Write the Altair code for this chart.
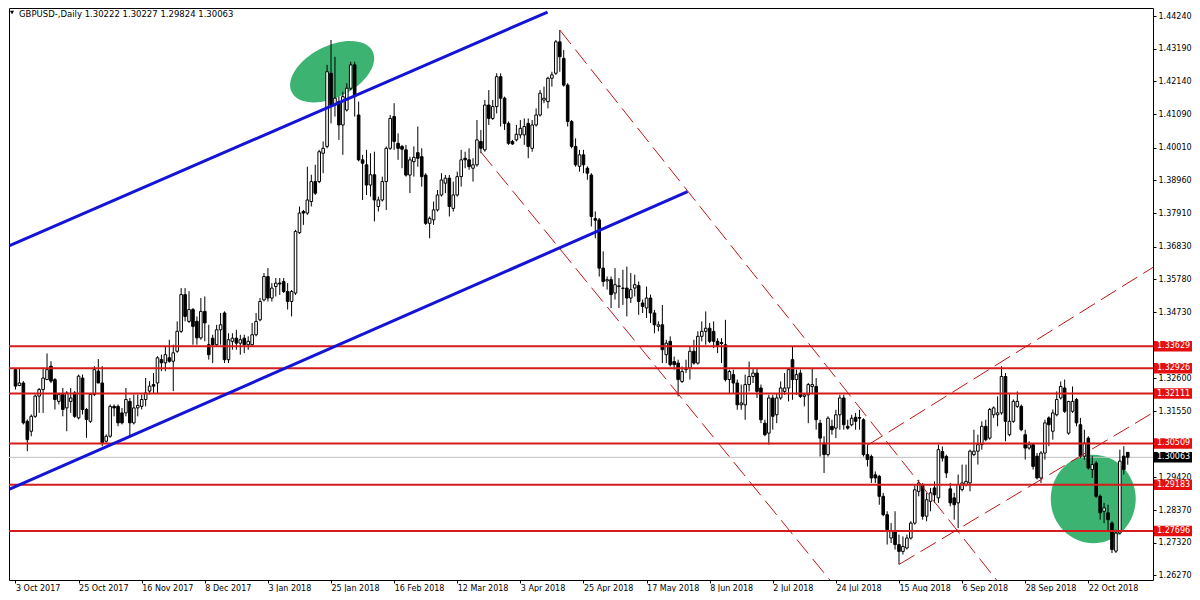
import altair as alt
import pandas as pd

# ---------------- data ----------------
OPEN = [1.3288,1.3237,1.3245,1.3122,1.3090,1.3138,1.3203,1.3224,1.3256,1.3299,
        1.3256,1.3186,1.3208,1.3165,1.3186,1.3213,1.3133,1.3261,1.3160,1.3122,
        1.3208,1.3283,1.3245,1.3058,1.3074,1.3170,1.3170,1.3149,1.3149,1.3186,
        1.3117,1.3165,1.3170,1.3192,1.3219,1.3240,1.3245,1.3320,1.3310,1.3326,
        1.3315,1.3347,1.3411,1.3529,1.3443,1.3481,1.3443,1.3390,1.3475,1.3368,
        1.3389,1.3368,1.3416,1.3470,1.3320,1.3379,1.3389,1.3373,1.3389,1.3368,
        1.3368,1.3400,1.3448,1.3512,1.3587,1.3518,1.3555,1.3566,1.3571,1.3539,
        1.3507,1.3534,1.3728,1.3796,1.3791,1.3828,1.3892,1.3892,1.3983,1.4005,
        1.4240,1.4138,1.4149,1.4074,1.4122,1.4192,1.4267,1.4106,1.3962,1.3946,
        1.3881,1.3914,1.3812,1.3833,1.3892,1.3999,1.4101,1.4015,1.4005,1.3994,
        1.3913,1.3956,1.3985,1.3972,1.3913,1.3758,1.3769,1.3801,1.3849,1.3887,
        1.3903,1.3806,1.3849,1.3908,1.3967,1.3962,1.3935,1.3946,1.4021,1.3994,
        1.4138,1.4095,1.4133,1.4229,1.4160,1.4079,1.4021,1.4026,1.4042,1.4042,
        1.4079,1.3999,1.4074,1.4106,1.4154,1.4149,1.4224,1.4240,1.4341,1.4288,
        1.4202,1.4085,1.4005,1.3941,1.3978,1.3935,1.3913,1.3773,1.3769,1.3614,
        1.3573,1.3577,1.3534,1.3555,1.3550,1.3550,1.3518,1.3550,1.3558,1.3502,
        1.3486,1.3518,1.3470,1.3427,1.3432,1.3336,1.3379,1.3314,1.3309,1.3250,
        1.3288,1.3293,1.3347,1.3309,1.3395,1.3411,1.3421,1.3411,1.3379,1.3375,
        1.3368,1.3256,1.3272,1.3245,1.3175,1.3175,1.3240,1.3266,1.3277,1.3229,
        1.3116,1.3084,1.3197,1.3143,1.3197,1.3218,1.3229,1.3320,1.3256,1.3277,
        1.3202,1.3207,1.3234,1.3234,1.3116,1.3052,1.3015,1.3106,1.3100,1.3143,
        1.3197,1.3106,1.3111,1.3135,1.3134,1.3127,1.3015,1.3009,1.2950,1.2945,
        1.2881,1.2822,1.2747,1.2769,1.2726,1.2704,1.2715,1.2747,1.2795,1.2897,
        1.2918,1.2817,1.2865,1.2908,1.2876,1.3025,1.3009,1.2905,1.2876,1.2860,
        1.2903,1.2919,1.2924,1.3015,1.3026,1.3047,1.3106,1.3068,1.3143,1.3143,
        1.3149,1.3266,1.3079,1.3122,1.3170,1.3170,1.3079,1.3036,1.3047,1.3010,
        1.2940,1.3020,1.3133,1.3090,1.3143,1.3197,1.3229,1.3084,1.3154,1.3192,
        1.3111,1.3010,1.3068,1.2967,1.2988,1.2881,1.2833,1.2828,1.2795,1.2705,
        1.2763,1.3010,1.30222]
HIGH = [1.3293,1.3293,1.3251,1.3128,1.3144,1.3208,1.3229,1.3293,1.3340,1.3315,
        1.3261,1.3213,1.3229,1.3219,1.3229,1.3219,1.3272,1.3272,1.3165,1.3213,
        1.3299,1.3322,1.3299,1.3080,1.3176,1.3176,1.3176,1.3165,1.3229,1.3197,
        1.3208,1.3208,1.3208,1.3261,1.3251,1.3277,1.3331,1.3336,1.3363,1.3384,
        1.3368,1.3443,1.3550,1.3550,1.3540,1.3486,1.3459,1.3518,1.3523,1.3432,
        1.3400,1.3432,1.3470,1.3475,1.3405,1.3405,1.3416,1.3400,1.3400,1.3395,
        1.3438,1.3470,1.3518,1.3598,1.3614,1.3566,1.3582,1.3582,1.3582,1.3566,
        1.3544,1.3737,1.3812,1.3801,1.3940,1.3914,1.3946,1.3994,1.4021,1.4267,
        1.4347,1.4293,1.4165,1.4181,1.4208,1.4277,1.4277,1.4149,1.3978,1.3994,
        1.3983,1.3988,1.3844,1.3908,1.4005,1.4106,1.4144,1.4047,1.4010,1.4010,
        1.3972,1.4005,1.4069,1.3999,1.3919,1.3780,1.3828,1.3865,1.3919,1.3913,
        1.3913,1.3892,1.3924,1.3994,1.3988,1.3999,1.3967,1.4090,1.4058,1.4154,
        1.4186,1.4154,1.4240,1.4240,1.4165,1.4085,1.4026,1.4074,1.4090,1.4095,
        1.4095,1.4090,1.4127,1.4186,1.4197,1.4229,1.4245,1.4347,1.4379,1.4315,
        1.4208,1.4090,1.4031,1.3994,1.3994,1.3941,1.3919,1.3796,1.3775,1.3668,
        1.3587,1.3587,1.3614,1.3582,1.3609,1.3619,1.3598,1.3593,1.3571,1.3513,
        1.3555,1.3529,1.3480,1.3443,1.3496,1.3384,1.3395,1.3330,1.3320,1.3298,
        1.3320,1.3363,1.3384,1.3411,1.3443,1.3475,1.3438,1.3443,1.3389,1.3389,
        1.3448,1.3288,1.3288,1.3256,1.3240,1.3272,1.3314,1.3293,1.3293,1.3240,
        1.3127,1.3207,1.3207,1.3213,1.3250,1.3277,1.3293,1.3363,1.3288,1.3288,
        1.3213,1.3245,1.3293,1.3261,1.3127,1.3074,1.3138,1.3127,1.3159,1.3207,
        1.3207,1.3127,1.3143,1.3149,1.3159,1.3132,1.3047,1.3015,1.2961,1.2950,
        1.2892,1.2833,1.2795,1.2833,1.2758,1.2752,1.2758,1.2801,1.2918,1.2934,
        1.2924,1.2892,1.2908,1.2929,1.3047,1.3041,1.3015,1.2924,1.2892,1.2951,
        1.2983,1.2983,1.3031,1.3095,1.3079,1.3122,1.3127,1.3165,1.3170,1.3202,
        1.3299,1.3277,1.3213,1.3192,1.3218,1.3176,1.3095,1.3058,1.3052,1.3020,
        1.3026,1.3127,1.3138,1.3160,1.3218,1.3250,1.3256,1.3186,1.3234,1.3197,
        1.3133,1.3095,1.3074,1.3010,1.2994,1.2887,1.2860,1.2854,1.2801,1.2774,
        1.3031,1.3042,1.30227]
LOW = [1.3224,1.3235,1.3112,1.3026,1.3074,1.3133,1.3149,1.3149,1.3256,1.3245,
       1.3160,1.3176,1.3138,1.3090,1.3149,1.3133,1.3128,1.3144,1.3069,1.3117,
       1.3203,1.3245,1.3042,1.3053,1.3069,1.3138,1.3106,1.3112,1.3138,1.3074,
       1.3112,1.3138,1.3160,1.3170,1.3208,1.3213,1.3213,1.3283,1.3283,1.3310,
       1.3219,1.3342,1.3406,1.3443,1.3438,1.3368,1.3368,1.3384,1.3379,1.3320,
       1.3309,1.3363,1.3368,1.3309,1.3309,1.3352,1.3352,1.3336,1.3341,1.3352,
       1.3363,1.3395,1.3443,1.3507,1.3507,1.3507,1.3523,1.3528,1.3534,1.3481,
       1.3459,1.3528,1.3724,1.3753,1.3785,1.3812,1.3849,1.3887,1.3919,1.3999,
       1.4079,1.4101,1.4026,1.3978,1.4117,1.4186,1.4101,1.3957,1.3833,1.3849,
       1.3844,1.3764,1.3796,1.3828,1.3801,1.3994,1.3994,1.3962,1.3935,1.3908,
       1.3855,1.3908,1.3940,1.3876,1.3753,1.3710,1.3753,1.3796,1.3844,1.3855,
       1.3780,1.3796,1.3844,1.3876,1.3935,1.3930,1.3892,1.3940,1.3983,1.3988,
       1.4074,1.4090,1.4111,1.4069,1.4058,1.4010,1.4010,1.4021,1.4031,1.4010,
       1.3967,1.3988,1.4069,1.4101,1.4144,1.4127,1.4197,1.4235,1.4245,1.4197,
       1.4069,1.3999,1.3940,1.3924,1.3919,1.3898,1.3748,1.3710,1.3587,1.3555,
       1.3545,1.3486,1.3513,1.3486,1.3496,1.3459,1.3502,1.3523,1.3464,1.3470,
       1.3454,1.3438,1.3405,1.3411,1.3309,1.3309,1.3298,1.3288,1.3202,1.3245,
       1.3277,1.3256,1.3304,1.3304,1.3379,1.3368,1.3373,1.3357,1.3341,1.3309,
       1.3250,1.3213,1.3213,1.3159,1.3159,1.3127,1.3218,1.3245,1.3197,1.3116,
       1.3074,1.3047,1.3095,1.3116,1.3191,1.3207,1.3186,1.3191,1.3207,1.3197,
       1.3170,1.3116,1.3213,1.3095,1.3009,1.2956,1.3009,1.3079,1.3068,1.3095,
       1.3095,1.3095,1.3106,1.3095,1.3095,1.3009,1.2977,1.2924,1.2924,1.2854,
       1.2817,1.2726,1.2731,1.2710,1.2662,1.2694,1.2710,1.2742,1.2790,1.2881,
       1.2806,1.2801,1.2833,1.2860,1.2860,1.2993,1.2940,1.2849,1.2806,1.2779,
       1.2897,1.2913,1.2897,1.3010,1.2983,1.3031,1.3058,1.3063,1.3133,1.3106,
       1.3143,1.3058,1.3074,1.3117,1.3165,1.3090,1.2999,1.3031,1.2967,1.2935,
       1.2924,1.2999,1.3042,1.3063,1.3138,1.3192,1.3149,1.3079,1.3149,1.3106,
       1.3004,1.2999,1.2967,1.2940,1.2876,1.2806,1.2795,1.2769,1.2699,1.2699,
       1.2758,1.2951,1.29824]
CLOSE = [1.3235,1.3245,1.3117,1.3063,1.3138,1.3203,1.3224,1.3261,1.3288,1.3251,
         1.3192,1.3208,1.3160,1.3213,1.3197,1.3138,1.3267,1.3160,1.3128,1.3208,
         1.3288,1.3245,1.3053,1.3074,1.3170,1.3165,1.3117,1.3117,1.3192,1.3117,
         1.3165,1.3173,1.3192,1.3213,1.3235,1.3235,1.3326,1.3310,1.3336,1.3315,
         1.3342,1.3411,1.3529,1.3459,1.3481,1.3427,1.3390,1.3475,1.3438,1.3336,
         1.3368,1.3416,1.3432,1.3320,1.3384,1.3389,1.3373,1.3384,1.3368,1.3379,
         1.3400,1.3443,1.3507,1.3587,1.3518,1.3550,1.3566,1.3563,1.3539,1.3507,
         1.3539,1.3732,1.3791,1.3791,1.3833,1.3892,1.3855,1.3988,1.3999,1.4245,
         1.4138,1.4160,1.4074,1.4165,1.4192,1.4267,1.4165,1.3962,1.3951,1.3881,
         1.3914,1.3833,1.3833,1.3892,1.3999,1.4095,1.4021,1.3999,1.3996,1.3913,
         1.3962,1.3970,1.3967,1.3908,1.3758,1.3774,1.3801,1.3849,1.3897,1.3903,
         1.3812,1.3849,1.3908,1.3962,1.3962,1.3940,1.3946,1.4026,1.3999,1.4138,
         1.4095,1.4133,1.4229,1.4160,1.4079,1.4015,1.4013,1.4044,1.4063,1.4069,
         1.4005,1.4074,1.4106,1.4176,1.4160,1.4224,1.4235,1.4341,1.4293,1.4202,
         1.4085,1.4005,1.3946,1.3978,1.3946,1.3919,1.3780,1.3768,1.3614,1.3571,
         1.3577,1.3529,1.3561,1.3557,1.3549,1.3518,1.3545,1.3561,1.3507,1.3491,
         1.3518,1.3470,1.3432,1.3432,1.3352,1.3373,1.3304,1.3304,1.3256,1.3282,
         1.3293,1.3347,1.3309,1.3395,1.3411,1.3421,1.3379,1.3379,1.3363,1.3372,
         1.3256,1.3282,1.3245,1.3175,1.3181,1.3240,1.3266,1.3277,1.3218,1.3127,
         1.3079,1.3197,1.3138,1.3197,1.3229,1.3229,1.3288,1.3256,1.3272,1.3202,
         1.3207,1.3240,1.3240,1.3127,1.3068,1.3015,1.3132,1.3095,1.3143,1.3197,
         1.3111,1.3100,1.3132,1.3122,1.3132,1.3015,1.2999,1.2940,1.2940,1.2881,
         1.2822,1.2774,1.2769,1.2726,1.2704,1.2720,1.2747,1.2795,1.2902,1.2924,
         1.2817,1.2870,1.2892,1.2886,1.3031,1.3004,1.2956,1.2860,1.2854,1.2919,
         1.2924,1.2929,1.3026,1.3026,1.3047,1.3106,1.3063,1.3160,1.3165,1.3149,
         1.3266,1.3122,1.3122,1.3186,1.3186,1.3095,1.3036,1.3047,1.2977,1.2940,
         1.3020,1.3117,1.3111,1.3149,1.3192,1.3234,1.3154,1.3186,1.3186,1.3117,
         1.3010,1.3052,1.2972,1.2983,1.2881,1.2828,1.2844,1.2806,1.2710,1.2763,
         1.2994,1.2967,1.30063]

DATE_LABELS = ["3 Oct 2017", "25 Oct 2017", "16 Nov 2017", "8 Dec 2017", "3 Jan 2018",
               "25 Jan 2018", "16 Feb 2018", "12 Mar 2018", "3 Apr 2018", "25 Apr 2018",
               "17 May 2018", "8 Jun 2018", "2 Jul 2018", "24 Jul 2018", "15 Aug 2018",
               "6 Sep 2018", "28 Sep 2018", "22 Oct 2018"]
BARS_PER_LABEL = 16
PRICE_TICKS = [1.44240, 1.43190, 1.42140, 1.41090, 1.40010, 1.38960, 1.37910, 1.36830,
               1.35780, 1.34730, 1.32600, 1.31550, 1.29420, 1.28370, 1.27320, 1.26270]
LEVELS = [1.33629, 1.32926, 1.32111, 1.30509, 1.29183, 1.27696]
BID = 1.30063
TITLE = "GBPUSD-,Daily  1.30222 1.30227 1.29824 1.30063"

# trend objects: (bar index, price) anchor points
BLUE_LINES = {
    "upper": ([-1.5, 134.9], [1.36860, 1.44368]),
    "lower": ([-1.5, 170.4], [1.29038, 1.38596]),
}
DASHED_LINES = {
    "down_upper": ([138.0, 252.0], [1.43790, 1.25600]),
    "down_lower": ([118.0, 207.0], [1.39870, 1.26040]),
    "up_lower": ([224.0, 292.0], [1.26620, 1.31770]),
    "up_upper": ([216.0, 292.0], [1.30450, 1.36450]),
}
ELLIPSES_IDX = [80.3, 273.25]
ELLIPSES_PRICE = [1.42451, 1.28724]

# ---------------- chart ----------------
FONT = "DejaVu Sans"
FS = 8
W, H = 1144, 572
BAR_PX = 3.979          # pixel pitch of one bar
X_DOMAIN = [-1.5 / BAR_PX, (W - 1.5) / BAR_PX]
Y_DOMAIN = [1.26122, 1.44497]


def xs():
    return alt.Scale(domain=X_DOMAIN, nice=False, zero=False)


def ys():
    return alt.Scale(domain=Y_DOMAIN, nice=False, zero=False)


n = len(CLOSE)
candles = pd.DataFrame({"i": list(range(n)), "open": OPEN, "high": HIGH,
                        "low": LOW, "close": CLOSE})

label_arr = "[" + ",".join("'" + s + "'" for s in DATE_LABELS) + "]"
X_AXIS = alt.Axis(values=[k * BARS_PER_LABEL for k in range(len(DATE_LABELS))],
                  labelExpr=label_arr + "[round(datum.value/" + str(BARS_PER_LABEL) + ")]",
                  labelAlign="left", labelBaseline="top", labelPadding=1, labelFlush=False,
                  labelOverlap=False, labelBound=False, tickSize=3, tickColor="black",
                  domain=False, grid=False, title=None, labelFont=FONT, labelFontSize=FS,
                  labelColor="black")
Y_AXIS = alt.Axis(orient="right", values=PRICE_TICKS, format=".5f", tickSize=3,
                  tickColor="black", labelPadding=2, domain=False, grid=False, title=None,
                  labelFont=FONT, labelFontSize=FS, labelColor="black", labelFlush=False,
                  labelOverlap=False)


def X(field):
    return alt.X(field, scale=xs(), axis=X_AXIS)


def Y(field):
    return alt.Y(field, scale=ys(), axis=Y_AXIS)


# ellipses (background objects)
ell_df = pd.DataFrame({"i": ELLIPSES_IDX, "p": ELLIPSES_PRICE})
ELL1 = ("M 1 0 C 1 0.313 0.552 0.567 0 0.567 C -0.552 0.567 -1 0.313 -1 0 "
        "C -1 -0.313 -0.552 -0.567 0 -0.567 C 0.552 -0.567 1 -0.313 1 0 Z")
ELL2 = ("M 1 0 C 1 0.574 0.552 1.04 0 1.04 C -0.552 1.04 -1 0.574 -1 0 "
        "C -1 -0.574 -0.552 -1.04 0 -1.04 C 0.552 -1.04 1 -0.574 1 0 Z")
ell1 = alt.Chart(ell_df.iloc[[0]]).mark_point(shape=ELL1, filled=True, fill="#3cb371",
                                               strokeWidth=0, opacity=1, size=8208, angle=333).encode(
    x=X("i:Q"), y=Y("p:Q"))
ell2 = alt.Chart(ell_df.iloc[[1]]).mark_point(shape=ELL2, filled=True, fill="#3cb371",
                                               strokeWidth=0, opacity=1, size=7225).encode(
    x=X("i:Q"), y=Y("p:Q"))

bid_df = pd.DataFrame({"p": [BID]})
bid_line = alt.Chart(bid_df).mark_rule(color="#c0c0c0", strokeWidth=1).encode(y=Y("p:Q"))

wicks = alt.Chart(candles).mark_rule(color="black", strokeWidth=1).encode(
    x=X("i:Q"), y=Y("low:Q"), y2="high:Q")
bodies = alt.Chart(candles).mark_bar(size=2.6, stroke="black", strokeWidth=1).encode(
    x=X("i:Q"), y=Y("open:Q"), y2="close:Q",
    fill=alt.condition("datum.close >= datum.open", alt.value("white"), alt.value("black")))

lev_df = pd.DataFrame({"p": LEVELS})
lev_lines = alt.Chart(lev_df).mark_rule(color="#d41c1c", strokeWidth=2).encode(y=Y("p:Q"))


def lines_df(d):
    rows = []
    for name, (ii, pp) in d.items():
        for k, (a, b) in enumerate(zip(ii, pp)):
            rows.append({"name": name, "i": a, "p": b, "o": k})
    return pd.DataFrame(rows)


blue = alt.Chart(lines_df(BLUE_LINES)).mark_line(color="#1414d6", strokeWidth=3, clip=True).encode(
    x=X("i:Q"), y=Y("p:Q"), detail="name:N", order="o:Q")
dashed = alt.Chart(lines_df(DASHED_LINES)).mark_line(color="#c01414", strokeWidth=1,
                                                     strokeDash=[18, 7], clip=True).encode(
    x=X("i:Q"), y=Y("p:Q"), detail="name:N", order="o:Q")

BOX = "M -1 -0.276 L 1 -0.276 L 1 0.276 L -1 0.276 Z"
box_df = pd.DataFrame({"p": LEVELS + [BID],
                       "t": ["%.5f" % v for v in LEVELS] + ["%.5f" % BID],
                       "c": ["red"] * len(LEVELS) + ["black"]})
boxes = alt.Chart(box_df).mark_point(shape=BOX, filled=True, strokeWidth=0, opacity=1,
                                     size=38 * 38).encode(
    x=alt.value(W + 20), y=Y("p:Q"),
    fill=alt.Fill("c:N", scale=alt.Scale(domain=["red", "black"], range=["#e60f0f", "#000000"]),
                  legend=None))
box_text = alt.Chart(box_df).mark_text(color="white", font=FONT, fontSize=FS, align="left",
                                       baseline="middle").encode(
    x=alt.value(W + 4), y=Y("p:Q"), text="t:N")

title_df = pd.DataFrame({"t": [TITLE]})
title = alt.Chart(title_df).mark_text(align="left", baseline="middle", font=FONT, fontSize=8.5,
                                      color="black").encode(
    x=alt.value(10), y=alt.value(5.5), text="t:N")
tri = alt.Chart(title_df).mark_point(shape="triangle-down", filled=True, color="black",
                                     size=18, opacity=1).encode(x=alt.value(3), y=alt.value(4.5))

chart = alt.layer(ell1, ell2, bid_line, wicks, bodies, lev_lines, blue, dashed,
                  boxes, box_text, title, tri).properties(
    width=W, height=H,
    padding={"left": 0, "top": 0, "right": 0, "bottom": 0},
    background="white",
).configure_view(stroke="black", strokeWidth=1)

chart.save("out.html", embed_options={"renderer": "svg", "actions": False})
